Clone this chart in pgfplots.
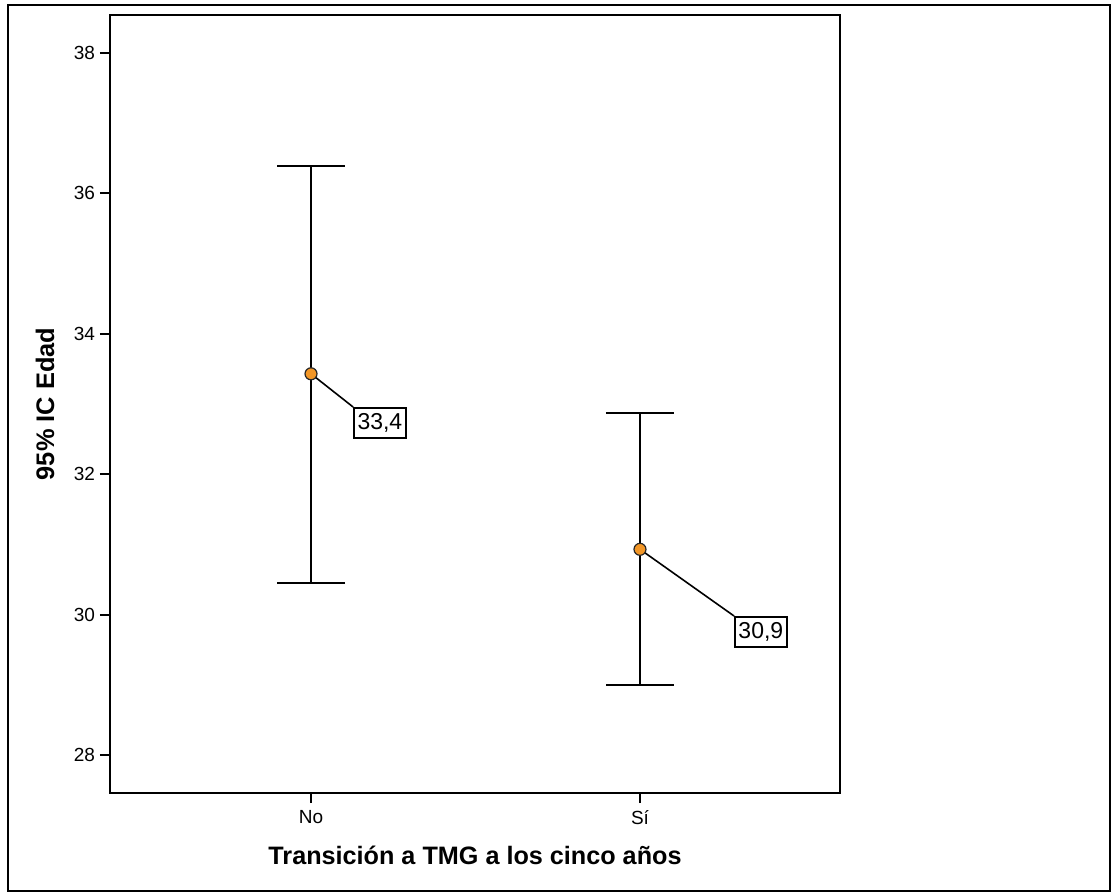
\documentclass[border=0pt]{standalone}
\usepackage{pgfplots}
\pgfplotsset{compat=1.18}
\usepackage{pgfplotstable}
\usepackage{fontspec}
\setmainfont{Liberation Sans}
\definecolor{meanorange}{RGB}{242,150,38}
\pgfplotstableread{
x y ep em
0 33.43 2.96 2.98
1 30.93 1.94 1.93
}\cidata
\begin{document}
\begin{tikzpicture}
\useasboundingbox (-55pt,-49.5pt) rectangle (500.5pt,396.5pt);
\draw[line width=1pt] (-51pt,-49pt) rectangle (500pt,394pt);
\begin{axis}[
  scale only axis,
  width=365pt, height=389pt,
  xmin=-0.611, xmax=1.608,
  ymin=27.459, ymax=38.541,
  xtick={0,1}, xticklabels={No,Sí},
  ytick={28,30,32,34,36,38},
  tick pos=left,
  tick align=outside,
  major tick length=5pt,
  axis line style={line width=1pt},
  every tick/.style={black, line width=1pt},
  /pgf/number format/assume math mode=true,
  ticklabel style={font=\fontsize{9.5}{11}\selectfont},
  yticklabel style={xshift=1pt},
  xlabel={\textbf{Transición a TMG a los cinco años}},
  ylabel={\textbf{95\% IC Edad}},
  xlabel style={font=\fontsize{12.6}{15}\selectfont, at={([yshift=-31pt]axis description cs:0.5,0)}, anchor=center},
  ylabel style={font=\fontsize{12.7}{15}\selectfont, at={([xshift=-32.5pt]axis description cs:0,0.5)}, anchor=center},
  clip=false,
]
\addplot[draw=none, mark=none, forget plot,
  error bars/.cd, y dir=both, y explicit,
  error bar style={line width=1pt, black},
  error mark options={rotate=90, mark size=17pt, line width=1pt, black}]
  table[x=x, y=y, y error plus=ep, y error minus=em] {\cidata};
\draw[line width=0.8pt] (axis cs:0,33.43) -- (axis cs:0.128,32.957)
  node[anchor=north west, draw, line width=0.8pt, fill=white, inner xsep=1.8pt, inner ysep=2.8pt, font=\fontsize{11.5}{13}\selectfont] {33,4};
\draw[line width=0.8pt] (axis cs:1,30.93) -- (axis cs:1.286,29.98)
  node[anchor=north west, draw, line width=0.8pt, fill=white, inner xsep=1.8pt, inner ysep=2.8pt, font=\fontsize{11.5}{13}\selectfont] {30,9};
\addplot[only marks, mark=*, mark size=3pt, mark options={fill=meanorange, draw=black!85, line width=0.6pt}]
  table[x=x, y=y] {\cidata};
\end{axis}
\end{tikzpicture}
\end{document}
